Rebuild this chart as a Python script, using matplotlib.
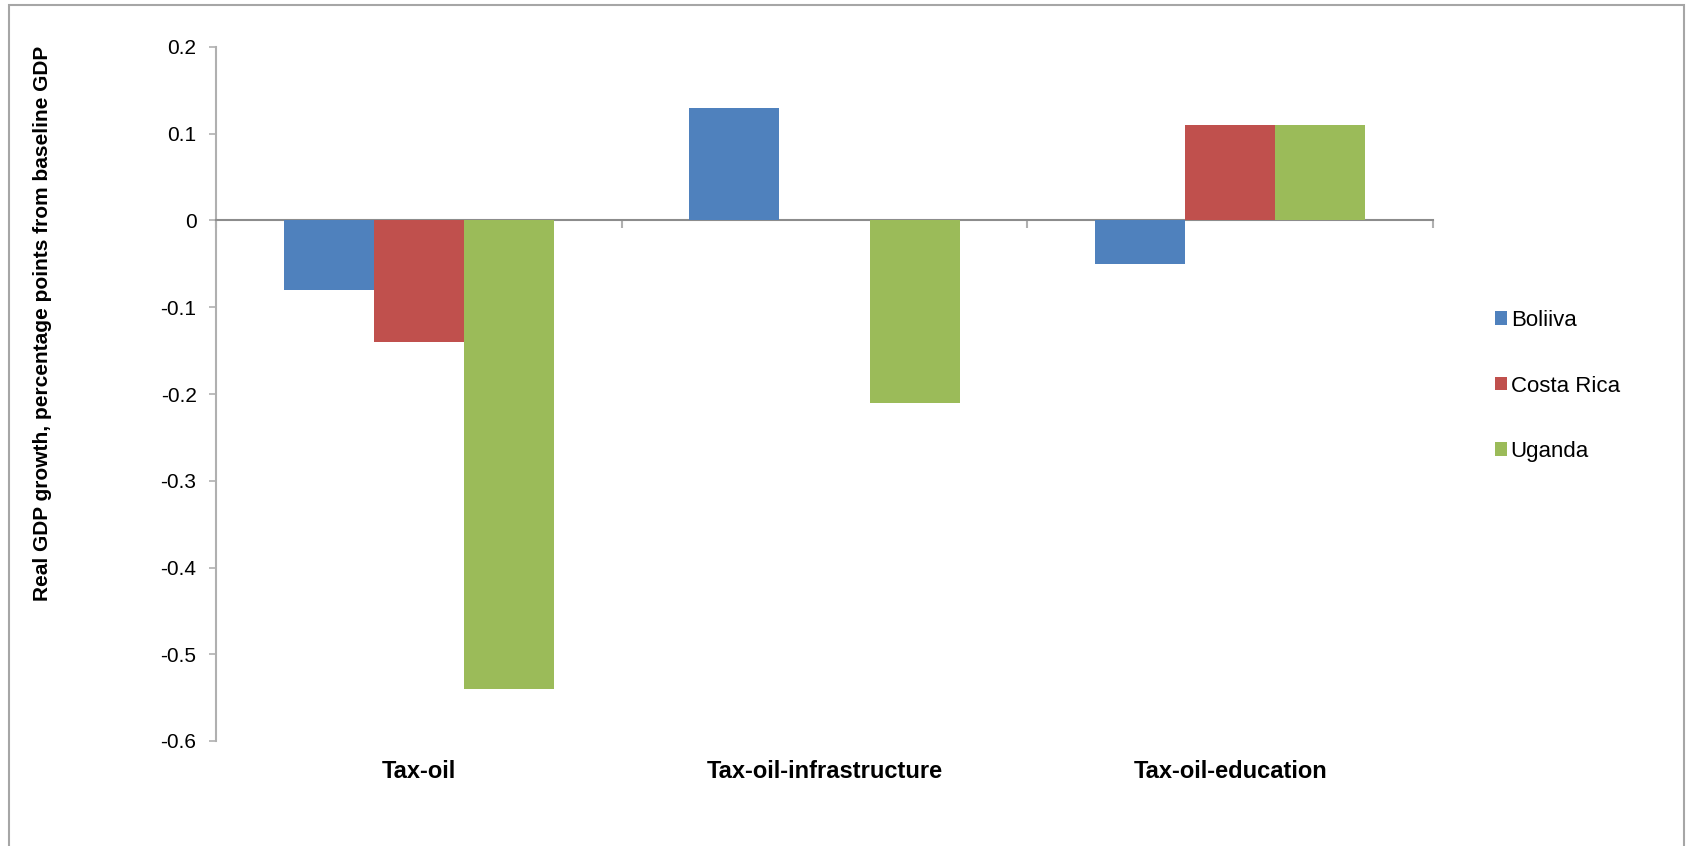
import matplotlib
matplotlib.use("Agg")
import matplotlib.pyplot as plt
import matplotlib.transforms as mtransforms
from matplotlib.patches import Patch, Rectangle
import numpy as np

plt.rcParams['font.family'] = ['Liberation Sans', 'DejaVu Sans']

categories = ["Tax-oil", "Tax-oil-infrastructure", "Tax-oil-education"]
series_names = ["Boliiva", "Costa Rica", "Uganda"]
bolivia = [-0.08, 0.13, -0.05]
costa_rica = [-0.14, 0.0, 0.11]
uganda = [-0.54, -0.21, 0.11]
yticks = [0.2, 0.1, 0, -0.1, -0.2, -0.3, -0.4, -0.5, -0.6]
ytick_labels = ["0.2", "0.1", "0", "-0.1", "-0.2", "-0.3", "-0.4", "-0.5", "-0.6"]
colors = ["#4F81BD", "#C0504D", "#9BBB59"]

W, H = 1688, 846
fig = plt.figure(figsize=(W / 100, H / 100), dpi=100)
ax = fig.add_axes([216 / W, 1 - 741 / H, (1433 - 216) / W, (741 - 47) / H])

x = np.arange(len(categories))
bw = 1 / 4.5  # gap width 150%
for i, (vals, name) in enumerate(zip([bolivia, costa_rica, uganda], series_names)):
    ax.bar(x + (i - 1) * bw, vals, width=bw, color=colors[i], label=name,
           edgecolor='none', zorder=3)

ax.set_xlim(-0.5, len(categories) - 0.5)
ax.set_ylim(-0.6, 0.2)

axis_color = "#8c8c8c"
for s in ["top", "right"]:
    ax.spines[s].set_visible(False)
ax.spines["bottom"].set_position(("data", 0))
ax.spines["bottom"].set_color(axis_color)
ax.spines["bottom"].set_linewidth(1.5)
ax.spines["left"].set_color("#b0b0b0")
ax.spines["left"].set_linewidth(1.5)

ax.set_yticks(yticks)
ax.set_yticklabels(ytick_labels)
ax.tick_params(axis='y', direction='out', length=5, width=1.2, color="#b0b0b0",
               labelsize=15, pad=9)
ax.set_xticks(np.arange(len(categories) + 1) - 0.5)
ax.set_xticklabels([])
ax.tick_params(axis='x', direction='out', length=6, width=1.5, color="#b0b0b0")

trans = mtransforms.blended_transform_factory(ax.transData, ax.transAxes)
for xi, c in zip(x, categories):
    ax.text(xi, -30 / 694, c, transform=trans, ha='center', va='center',
            fontsize=17, fontweight='bold')

fig.text(43 / W, 1 - 323 / H, "Real GDP growth, percentage points from baseline GDP",
         rotation=90, ha='center', va='center', fontsize=15, fontweight='bold')

handles = [Patch(facecolor=c, edgecolor='none') for c in colors]
leg = fig.legend(handles, series_names, loc='center left',
                 bbox_to_anchor=(1484 / W, 1 - 386 / H), frameon=False,
                 fontsize=16, handlelength=0.55, handleheight=0.55,
                 handletextpad=0.15, labelspacing=2.0, borderpad=0)

fig.patches.append(Rectangle((9 / W, -0.05), (1684 - 9) / W, 1.05 - 5 / H,
                             transform=fig.transFigure, fill=False,
                             edgecolor="#a6a6a6", linewidth=1.5))

fig.savefig("out.png", dpi=100)
